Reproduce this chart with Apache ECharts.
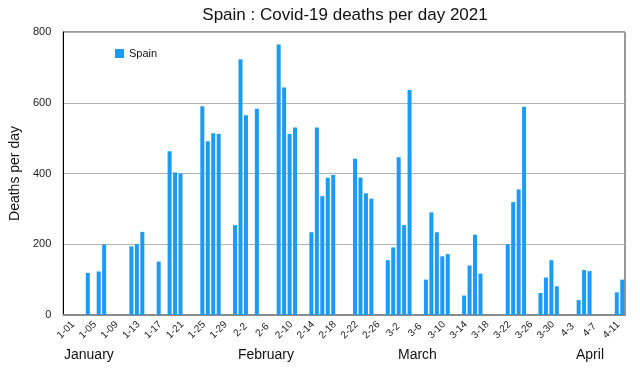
<!DOCTYPE html>
<html>
<head>
<meta charset="utf-8">
<script src="https://cdn.jsdelivr.net/npm/echarts@6/dist/echarts.min.js"></script>
<style>html,body{margin:0;padding:0;background:#fff}#c{width:640px;height:372px}</style>
</head>
<body>
<div id="c"></div>
<script>
// Days shown on the category axis (Jan 1 – Apr 13, 2021)
const janDays = ["1-01","1-02","1-03","1-04","1-05","1-06","1-07","1-08","1-09","1-10","1-11","1-12","1-13","1-14","1-15","1-16","1-17","1-18","1-19","1-20","1-21","1-22","1-23","1-24","1-25","1-26","1-27","1-28","1-29","1-30","1-31"];
const febDays = ["2-1","2-2","2-3","2-4","2-5","2-6","2-7","2-8","2-9","2-10","2-11","2-12","2-13","2-14","2-15","2-16","2-17","2-18","2-19","2-20","2-21","2-22","2-23","2-24","2-25","2-26","2-27","2-28"];
const marDays = ["3-1","3-2","3-3","3-4","3-5","3-6","3-7","3-8","3-9","3-10","3-11","3-12","3-13","3-14","3-15","3-16","3-17","3-18","3-19","3-20","3-21","3-22","3-23","3-24","3-25","3-26","3-27","3-28","3-29","3-30","3-31"];
const aprDays = ["4-1","4-2","4-3","4-4","4-5","4-6","4-7","4-8","4-9","4-10","4-11","4-12","4-13"];

// Deaths per day (null = no report)
const janDeaths = [null,null,null,null,119,null,123,199,null,null,null,null,194,200,235,null,null,151,null,463,403,400,null,null,null,590,491,514,512,null,null];
const febDeaths = [254,723,565,null,583,null,null,null,765,643,512,530,null,null,234,530,336,388,396,null,null,null,442,389,344,329,null,null];
const marDeaths = [155,191,446,254,636,null,null,100,290,234,166,172,null,null,55,140,227,117,null,null,null,null,200,319,355,589,null,null,62,106,155];
const aprDeaths = [81,null,null,null,42,127,124,null,null,null,null,64,100];

const yTicks = [0,200,400,600,800];
const months = ["January","February","March","April"];

const categories = janDays.concat(febDays, marDays, aprDays);
const deaths = janDeaths.concat(febDeaths, marDeaths, aprDeaths);

const FONT = "'Liberation Sans', Arial, Helvetica, sans-serif";
const chart = echarts.init(document.getElementById('c'), null, {renderer:'canvas'});
const monthX = [64, 238, 398, 576];
chart.setOption({
  animation: false,
  backgroundColor: '#fff',
  textStyle: {fontFamily: FONT},
  title: {
    text: 'Spain : Covid-19 deaths per day 2021',
    left: 340, top: 2, textAlign: 'center',
    textStyle: {fontSize: 17, fontWeight: 'normal', color: '#111', fontFamily: FONT}
  },
  legend: {
    left: 110, top: 43, icon: 'rect', itemWidth: 9, itemHeight: 9, itemGap: 6,
    textStyle: {fontSize: 11, color: '#111', fontFamily: FONT},
    data: ['Spain']
  },
  grid: {left: 63, right: 15, top: 32, bottom: 57, show: true, borderColor: '#333', borderWidth: 1},
  xAxis: {
    type: 'category', data: categories,
    axisLine: {lineStyle: {color: '#8c8c8c', width: 2}},
    axisTick: {show: false},
    axisLabel: {interval: 3, rotate: 45, fontSize: 10, color: '#222', margin: 15,
      align: 'center', verticalAlign: 'middle', fontFamily: FONT}
  },
  yAxis: {
    type: 'value', min: yTicks[0], max: yTicks[yTicks.length-1], interval: 200,
    name: 'Deaths per day', nameLocation: 'middle', nameGap: 36,
    nameTextStyle: {fontSize: 14, color: '#111', fontFamily: FONT},
    axisLine: {show: true, lineStyle: {color: '#000', width: 1}},
    axisTick: {show: false},
    axisLabel: {fontSize: 11, color: '#222', margin: 12, fontFamily: FONT},
    splitLine: {lineStyle: {color: '#b4b4b4', width: 1}}
  },
  series: [{
    name: 'Spain', type: 'bar', data: deaths, barWidth: 4,
    itemStyle: {color: '#1a9bf5'}
  }],
  graphic: months.map((m, i) => ({
    type: 'text', left: monthX[i], top: 348,
    style: {text: m, fontSize: 14, fill: '#111', fontFamily: FONT}
  }))
});
</script>
</body>
</html>
